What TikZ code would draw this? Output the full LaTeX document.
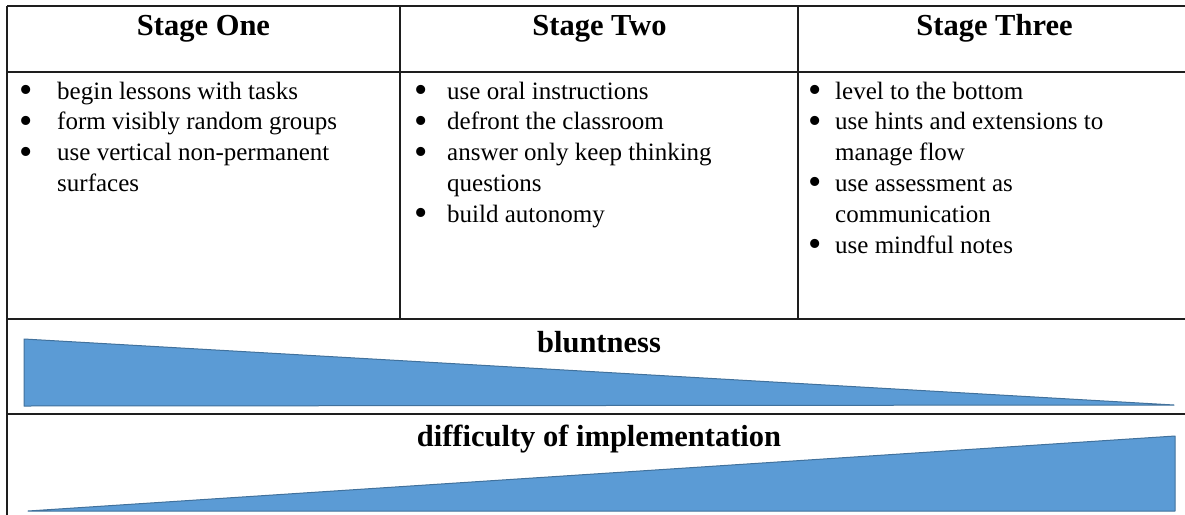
\documentclass[tikz,border=0pt]{standalone}
\usepackage{fontspec}
\setmainfont{Liberation Serif}
\definecolor{wedgeblue}{HTML}{5B9BD5}
\definecolor{wedgeedge}{HTML}{41719C}
\definecolor{rule}{HTML}{1E1E1E}
\tikzset{
  tline/.style={draw=rule, line width=1.8pt},
  head/.style={anchor=base, inner sep=0pt, font=\fontsize{30.5}{36}\selectfont\bfseries},
  body/.style={anchor=base west, inner sep=0pt, font=\fontsize{25}{30.8}\selectfont},
  wedge/.style={fill=wedgeblue, draw=wedgeedge, line width=1pt, line join=round}
}
\newcommand{\bl}[2]{\makebox[#1][l]{\smash{\raisebox{-3.5pt}{\fontsize{38}{38}\selectfont\textbullet}}}#2}
\newcommand{\cl}[2]{\hspace*{#1}#2}
\begin{document}
\begin{tikzpicture}[x=1pt,y=-1pt]
\useasboundingbox (0,0) rectangle (1185,514);
% table rules
\draw[tline] (7,6) -- (1190,6);
\draw[tline] (7,6) -- (7,520);
\draw[tline] (7,72) -- (1190,72);
\draw[tline] (7,319) -- (1190,319);
\draw[tline] (7,414) -- (1190,414);
\draw[tline] (400,6) -- (400,319);
\draw[tline] (798,6) -- (798,319);
% headers
\node[head] (h1) at (203.5,35) {Stage One};
\node[head] (h2) at (599.5,35) {Stage Two};
\node[head] (h3) at (994.5,35) {Stage Three};
% bullets
\node[body] (c1) at (19,99) {\begin{tabular}[t]{@{}l@{}}
\bl{38pt}{begin lessons with tasks}\\
\bl{38pt}{form visibly random groups}\\
\bl{38pt}{use vertical non-permanent}\\
\cl{38pt}{surfaces}
\end{tabular}};
\node[body] (c2) at (414.5,99) {\begin{tabular}[t]{@{}l@{}}
\bl{32.5pt}{use oral instructions}\\
\bl{32.5pt}{defront the classroom}\\
\bl{32.5pt}{answer only keep thinking}\\
\cl{32.5pt}{questions}\\
\bl{32.5pt}{build autonomy}
\end{tabular}};
\node[body] (c3) at (808.5,99) {\begin{tabular}[t]{@{}l@{}}
\bl{26.5pt}{level to the bottom}\\
\bl{26.5pt}{use hints and extensions to}\\
\cl{26.5pt}{manage flow}\\
\bl{26.5pt}{use assessment as}\\
\cl{26.5pt}{communication}\\
\bl{26.5pt}{use mindful notes}
\end{tabular}};
% wedges
\draw[wedge] (24,339) -- (1174,405) -- (24,406) -- cycle;
\draw[wedge] (28,511) -- (1175,436) -- (1175,511) -- cycle;
\node[head] (blunt) at (599,352) {bluntness};
\node[head] (diff) at (599,446) {difficulty of implementation};
\end{tikzpicture}
\end{document}
